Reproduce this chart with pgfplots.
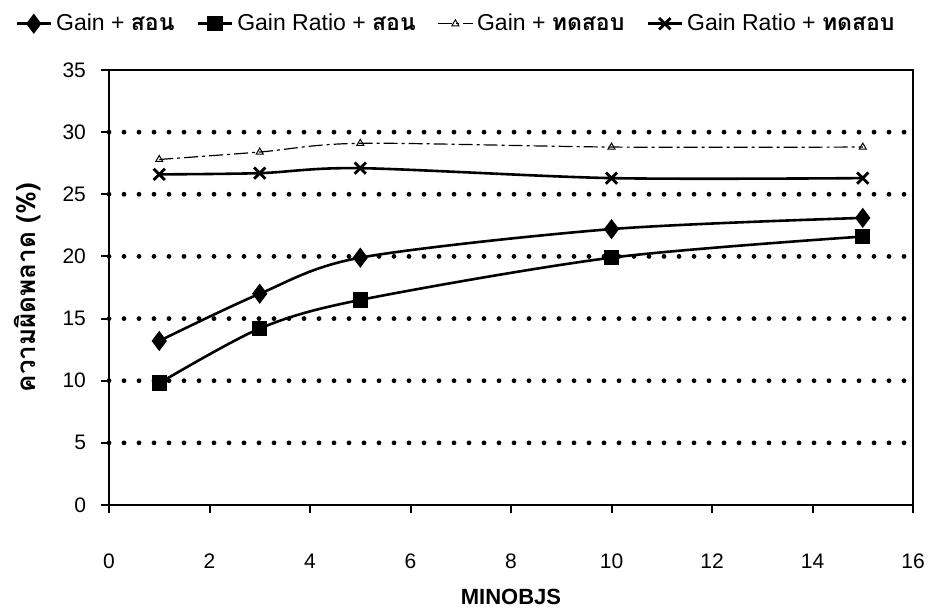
\documentclass[border=0pt]{standalone}
\usepackage{fontspec}
\setmainfont{Liberation Sans}
\newfontfamily\thaifont[Script=Thai]{Loma}
\usepackage{pgfplots}
\pgfplotsset{compat=1.18}

\newcommand{\thai}[1]{{\thaifont\bfseries #1}}

\begin{document}
\begin{tikzpicture}
\begin{axis}[
  name=main,
  scale only axis,
  width=402pt, height=217.5pt,
  xmin=0, xmax=16, ymin=0, ymax=35,
  xtick={0,2,...,16}, ytick={0,5,...,35},
  extra y ticks={5,10,...,30},
  extra y tick labels={},
  extra y tick style={ymajorgrids=true, major tick length=0pt},
  tick align=outside,
  xtick pos=bottom, ytick pos=left,
  major tick length=4pt,
  tick style={black, line width=1pt},
  axis line style={line width=1.3pt},
  major grid style={black, line width=2.4pt, dash pattern=on 0pt off 7.5pt, line cap=round},
  ticklabel style={font=\fontsize{10.5}{12}\selectfont},
  /pgf/number format/assume math mode=true,
  xticklabel style={yshift=-17pt},
  yticklabel style={xshift=-4pt},
  xlabel={\bfseries MINOBJS},
  xlabel style={font=\fontsize{11}{13}\selectfont, yshift=-3pt},
  ylabel={\thai{ความผิดพลาด (\%)}},
  ylabel style={font=\fontsize{13}{15}\selectfont, yshift=0pt},
  legend columns=4,
  legend style={
    at={(0.5,1)}, anchor=south, xshift=-27pt, yshift=14pt,
    draw=none, fill=none,
    font=\fontsize{11.5}{13}\selectfont,
    /tikz/every even column/.append style={column sep=9pt}
  },
  legend cell align=left,
  every axis plot/.append style={black},
]

% training error, gain criterion
\addplot[line width=1.3pt, smooth, mark=diamond*, mark size=4pt]
  coordinates {(1,13.2) (3,17.0) (5,19.9) (10,22.2) (15,23.1)};
\addlegendentry{Gain + \thai{สอน}}

% training error, gain ratio criterion
\addplot[line width=1.3pt, smooth, mark=square*, mark size=3.2pt]
  coordinates {(1,9.8) (3,14.2) (5,16.5) (10,19.9) (15,21.6)};
\addlegendentry{Gain Ratio + \thai{สอน}}

% test error, gain criterion
\addplot[line width=0.6pt, smooth, dash pattern=on 7pt off 2pt on 1.5pt off 2pt,
  mark=triangle, mark size=2pt, mark options={solid, line width=0.5pt}]
  coordinates {(1,27.8) (3,28.4) (5,29.1) (10,28.8) (15,28.8)};
\addlegendentry{Gain + \thai{ทดสอบ}}

% test error, gain ratio criterion
\addplot[line width=1.3pt, smooth, mark=x, mark size=4pt, mark options={line width=1.4pt}]
  coordinates {(1,26.6) (3,26.7) (5,27.1) (10,26.3) (15,26.3)};
\addlegendentry{Gain Ratio + \thai{ทดสอบ}}

\coordinate (O) at (rel axis cs:0,0);
\coordinate (T) at (rel axis cs:1,1);
\end{axis}
\pgfresetboundingbox
\path ([shift={(-54.5pt,-53.5pt)}]O) rectangle ([shift={(8pt,35pt)}]T);
\end{tikzpicture}
\end{document}
